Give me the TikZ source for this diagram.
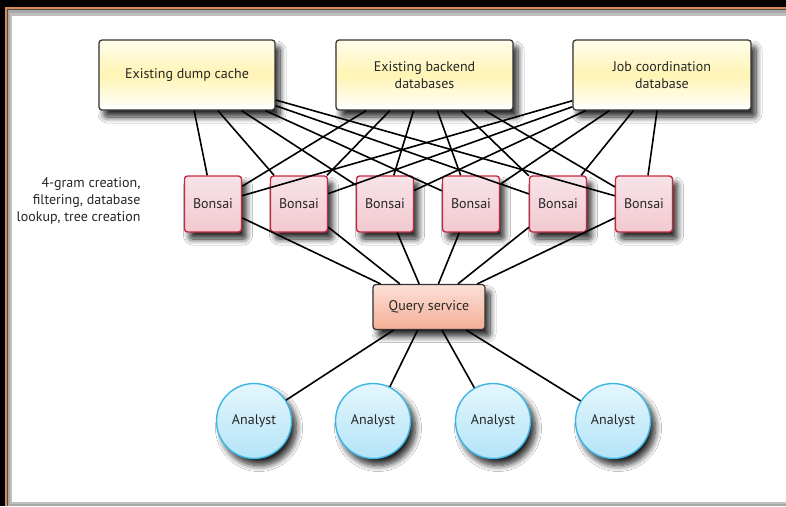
\documentclass[tikz,border=0pt]{standalone}
\usepackage{fontspec}
\setmainfont{PT Sans}
\usetikzlibrary{shadows.blur}
\definecolor{frameorange}{HTML}{D98A50}
\definecolor{framegray}{HTML}{A8A8A8}
\definecolor{creamA}{HTML}{FFFDEA}
\definecolor{creamB}{HTML}{FFF4B4}
\definecolor{bonsaiedge}{HTML}{C52A42}
\definecolor{bonsaitop}{HTML}{F8E4E8}
\definecolor{bonsaibot}{HTML}{F2C8D0}
\definecolor{querytop}{HTML}{FBE0D6}
\definecolor{querybot}{HTML}{F5AE96}
\definecolor{analystedge}{HTML}{3DB6E6}
\definecolor{analysttop}{HTML}{E4F6FD}
\definecolor{analystbot}{HTML}{B4E4F7}
\tikzset{
  shad/.style={blur shadow={shadow xshift=5pt, shadow yshift=-7pt, shadow blur radius=6pt, shadow opacity=85, shadow blur steps=10}},
  txt/.style={font=\fontsize{14}{17}\selectfont, text=black!85, align=center},
  storebox/.style={shad, txt, draw=black!80, line width=1.2pt, rounded corners=3pt,
    top color=creamA, bottom color=white, middle color=creamB,
    minimum width=176pt, minimum height=70pt, inner sep=0pt},
  bonsaibox/.style={shad, txt, draw=bonsaiedge, line width=1.4pt, rounded corners=3pt,
    top color=bonsaitop, bottom color=bonsaibot, minimum width=57pt, minimum height=56pt, inner sep=0pt},
  querybox/.style={shad, txt, draw=black!80, line width=1.2pt, rounded corners=3pt,
    top color=querytop, bottom color=querybot, minimum width=112pt, minimum height=45pt, inner sep=0pt},
  analystnode/.style={shad, txt, circle, draw=analystedge, line width=1.4pt,
    top color=analysttop, bottom color=analystbot, minimum size=75pt, inner sep=0pt},
  link/.style={line width=1.6pt, black}
}
\begin{document}
\begin{tikzpicture}[x=1pt, y=-1pt]
\useasboundingbox (0,0) rectangle (786,506);
% frame
\fill[black] (0,0) rectangle (786,506);
\fill[frameorange] (4.5,7) rectangle (786,506);
\fill[black!70] (6.5,9) rectangle (786,506);
\fill[framegray] (8,10) rectangle (786,506);
\fill[black!25] (10,13) rectangle (786,504);
\fill[white] (11.5,16) rectangle (786,502);
% top stores
\node[storebox] (dump) at (187,75) {Existing dump cache};
\node[storebox, minimum width=177pt] (backend) at (424.5,75) {Existing backend\\databases};
\node[storebox, minimum width=178pt] (job) at (662,75) {Job coordination\\database};
% bonsai
\foreach \i/\x in {1/213,2/299,3/385,4/471,5/558,6/644}{
  \node[bonsaibox] (b\i) at (\x,204) {Bonsai};
}
\node[txt, align=right, anchor=east] (note) at (144,201) {4-gram creation,\\filtering, database\\lookup, tree creation};
% query
\node[querybox] (query) at (429,307) {Query service};
% analysts
\foreach \i/\x in {1/254,2/373,3/493,4/613}{
  \node[analystnode] (a\i) at (\x,421) {Analyst};
}
% links
\foreach \s in {dump,backend,job}{
  \foreach \i in {1,...,6}{
    \draw[link] (\s) -- (b\i);
  }
}
\foreach \i in {1,...,6}{
  \draw[link] (b\i) -- (query);
}
\foreach \i in {1,...,4}{
  \draw[link] (query) -- (a\i);
}
\end{tikzpicture}
\end{document}
